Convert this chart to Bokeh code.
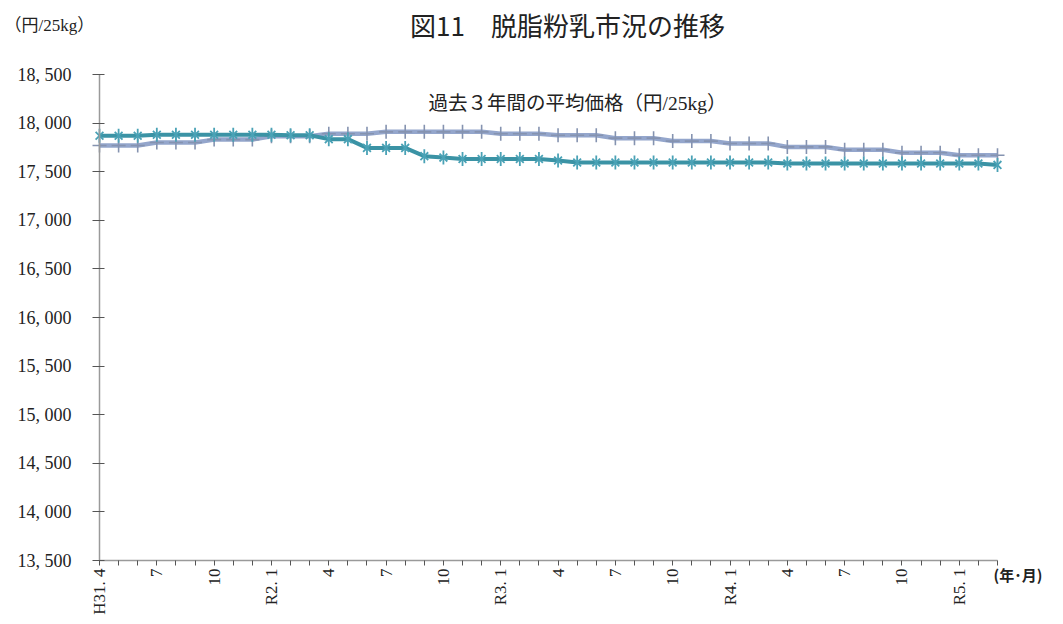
import math
from bokeh.plotting import figure
from bokeh.models import FixedTicker, Label, Range1d, ColumnDataSource
from bokeh.embed import file_html
from bokeh.resources import INLINE

# ---- data ----
months = ["H31.4", "5", "6", "7", "8", "9", "10", "11", "12",
          "R2.1", "2", "3", "4", "5", "6", "7", "8", "9", "10", "11", "12",
          "R3.1", "2", "3", "4", "5", "6", "7", "8", "9", "10", "11", "12",
          "R4.1", "2", "3", "4", "5", "6", "7", "8", "9", "10", "11", "12",
          "R5.1", "2", "3"]

tick_labels = ["H31. 4", "7", "10", "R2. 1", "4", "7", "10", "R3. 1",
               "4", "7", "10", "R4. 1", "4", "7", "10", "R5. 1"]

market_price = [17870, 17870, 17870, 17880, 17880, 17880, 17880, 17880, 17880, 17880,
                17875, 17875, 17835, 17835, 17745, 17745, 17745, 17660, 17645, 17630,
                17630, 17630, 17630, 17630, 17615, 17595, 17595, 17595, 17595, 17595,
                17595, 17595, 17595, 17595, 17595, 17595, 17585, 17585, 17585, 17585,
                17585, 17585, 17585, 17585, 17585, 17585, 17585, 17570]

avg_price_3y = [17770, 17770, 17770, 17800, 17800, 17800, 17830, 17830, 17830, 17865,
                17865, 17865, 17890, 17890, 17890, 17910, 17910, 17910, 17910, 17910,
                17910, 17890, 17890, 17890, 17875, 17875, 17875, 17845, 17845, 17845,
                17815, 17815, 17815, 17790, 17790, 17790, 17755, 17755, 17755, 17725,
                17725, 17725, 17695, 17695, 17695, 17670, 17670, 17670]

y_ticks = [13500, 14000, 14500, 15000, 15500, 16000, 16500, 17000, 17500, 18000, 18500]

# ---- layout (pixels) ----
W, H = 1055, 616
AX_L, AX_R = 99, 997       # x pixel of first / last month
AX_T, AX_B = 74, 560       # y pixel of 18,500 / 13,500
n = len(months)
y_lo, y_hi = y_ticks[0], y_ticks[-1]
px_x = (AX_R - AX_L) / (n - 1)
px_y = (AX_B - AX_T) / (y_hi - y_lo)
x_start = -AX_L / px_x
x_end = (n - 1) + (W - AX_R) / px_x
y_end = y_hi + AX_T / px_y
y_start = y_lo - (H - AX_B) / px_y

SERIF = "Liberation Serif, Noto Sans CJK JP"
JP = "Noto Sans CJK JP"

x_idx = list(range(n))
src = ColumnDataSource(dict(x=x_idx, market=market_price, avg=avg_price_3y))

p = figure(width=W, height=H, output_backend="svg", toolbar_location=None,
           x_range=Range1d(x_start, x_end), y_range=Range1d(y_start, y_end),
           min_border=0)
p.title.visible = False
p.outline_line_color = None
p.xgrid.visible = False
p.ygrid.visible = False
p.background_fill_color = "white"
p.border_fill_color = "white"

# x axis
p.xaxis.fixed_location = y_lo
p.xaxis.bounds = (0, n - 1)
p.xaxis.ticker = FixedTicker(ticks=x_idx)
overrides = {}
k = 0
for i in x_idx:
    if i % 3 == 0:
        overrides[i] = tick_labels[k]
        k += 1
    else:
        overrides[i] = ""
p.xaxis.major_label_overrides = overrides
p.xaxis.major_label_orientation = math.pi / 2
p.xaxis.major_label_text_font = SERIF
p.xaxis.major_label_text_font_size = "17px"
p.xaxis.major_label_text_color = "#222222"
p.xaxis.major_label_standoff = 3
p.xaxis.axis_line_color = "#9a9a9a"
p.xaxis.axis_line_width = 1.5
p.xaxis.major_tick_line_color = "#555555"
p.xaxis.major_tick_out = 5
p.xaxis.major_tick_in = 0
p.xaxis.minor_tick_line_color = None

# y axis
p.yaxis.fixed_location = 0
p.yaxis.bounds = (y_lo, y_hi)
p.yaxis.ticker = FixedTicker(ticks=y_ticks)
p.yaxis.major_label_overrides = {v: "{:,}".format(v).replace(",", ", ") for v in y_ticks}
p.yaxis.major_label_text_font = SERIF
p.yaxis.major_label_text_font_size = "18px"
p.yaxis.major_label_text_color = "#222222"
p.yaxis.major_label_standoff = 21
p.yaxis.axis_line_color = "#9a9a9a"
p.yaxis.axis_line_width = 1.5
p.yaxis.major_tick_line_color = "#555555"
p.yaxis.major_tick_out = 7
p.yaxis.major_tick_in = 5
p.yaxis.minor_tick_line_color = None

# 3-year average (lavender, plus markers)
p.line("x", "avg", source=src, line_color="#94a6cc", line_width=4.5)
p.scatter("x", "avg", source=src, marker="cross", size=14, line_color="#8593b0",
          line_width=1.6)

# market price (teal, asterisk markers)
p.line("x", "market", source=src, line_color="#3b93a5", line_width=4)
p.scatter("x", "market", source=src, marker="x", size=11, line_color="#4aa2b6",
          line_width=1.8)
p.scatter("x", "market", source=src, marker="dash", size=14, angle=math.pi / 2,
          line_color="#4aa2b6", line_width=1.8)

# ---- texts (screen units: x from left, y from bottom) ----
p.add_layout(Label(x=567, y=H - 24, x_units="screen", y_units="screen",
                   text="図11　脱脂粉乳市況の推移", text_font=JP,
                   text_font_size="26px", text_align="center",
                   text_baseline="middle", text_color="#222222"))
p.add_layout(Label(x=4, y=H - 25, x_units="screen", y_units="screen",
                   text="（円/25kg）", text_font=SERIF, text_font_size="17px",
                   text_align="left", text_baseline="middle", text_color="#222222"))
p.add_layout(Label(x=577, y=H - 103, x_units="screen", y_units="screen",
                   text="過去３年間の平均価格（円/25kg）", text_font=SERIF,
                   text_font_size="19.5px", text_align="center",
                   text_baseline="middle", text_color="#222222"))
p.add_layout(Label(x=993, y=H - 574, x_units="screen", y_units="screen",
                   text="(年･月)", text_font=JP, text_font_size="15px",
                   text_font_style="bold", text_align="left",
                   text_baseline="middle", text_color="#222222"))

open("out.html", "w").write(file_html(p, INLINE))
